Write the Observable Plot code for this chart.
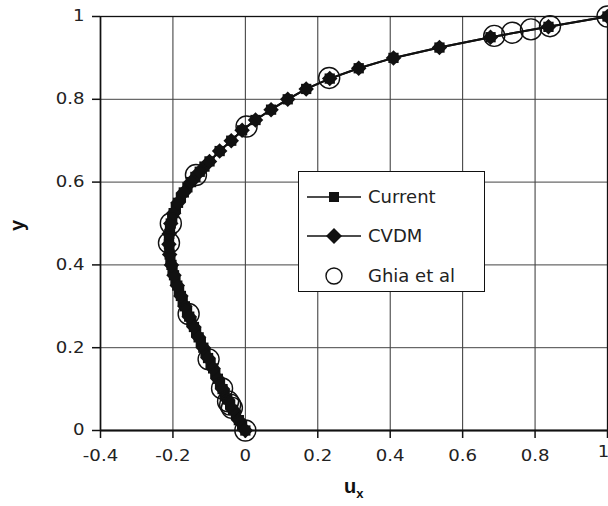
<!DOCTYPE html>
<html><head><meta charset="utf-8">
<script src="https://cdn.jsdelivr.net/npm/d3@7"></script>
<script src="https://cdn.jsdelivr.net/npm/@observablehq/plot@0.6"></script>
<style>
body{margin:0;background:#fff;font-family:"DejaVu Sans",sans-serif}
#wrap{position:relative;width:608px;height:506px;overflow:hidden}
#wrap > svg text{font-family:"DejaVu Sans",sans-serif !important;font-size:15.5px !important;fill:#222}
#legend{position:absolute;left:298px;top:171px;width:185px;height:119px;border:1.5px solid #111;background:#fff}
.ttl{position:absolute;font-family:"Liberation Sans",Arial,sans-serif;font-weight:bold;font-size:20px;color:#111}
</style></head><body><div id="wrap"></div><script>
// CVDM (diamonds)
const cvdmY = [0,0.025,0.05,0.075,0.1,0.125,0.15,0.175,0.2,0.225,0.25,0.275,0.3,0.325,0.35,0.375,0.4,0.425,0.45,0.475,0.5,0.525,0.55,0.575,0.6,0.625,0.65,0.675,0.7,0.725,0.75,0.775,0.8,0.825,0.85,0.875,0.9,0.925,0.95,0.975,1];
const cvdmU = [0,-0.018,-0.034,-0.05,-0.063,-0.076,-0.089,-0.103,-0.116,-0.129,-0.142,-0.155,-0.167,-0.178,-0.188,-0.197,-0.204,-0.209,-0.211,-0.21,-0.206,-0.198,-0.186,-0.17,-0.15,-0.126,-0.099,-0.071,-0.039,-0.009,0.028,0.071,0.117,0.168,0.233,0.313,0.409,0.536,0.677,0.837,1];
// Current (squares)
const currentY = [0,0.0125,0.025,0.0375,0.05,0.0625,0.075,0.0875,0.1,0.1125,0.125,0.1375,0.15,0.1625,0.175,0.1875,0.2,0.2125,0.225,0.2375,0.25,0.2625,0.275,0.2875,0.3,0.3125,0.325,0.3375,0.35,0.3625,0.375,0.3875,0.4,0.4125,0.425,0.4375,0.45,0.4625,0.475,0.4875,0.5,0.5125,0.525,0.5375,0.55,0.5625,0.575,0.5875,0.6,0.6125,0.625,0.6375,0.65,0.675,0.7,0.725,0.75,0.775,0.8,0.825,0.85,0.875,0.9,0.925,0.95,0.975,1];
const currentU = [0,-0.009,-0.018,-0.026,-0.034,-0.042,-0.05,-0.057,-0.063,-0.07,-0.076,-0.083,-0.089,-0.096,-0.103,-0.11,-0.116,-0.123,-0.129,-0.136,-0.142,-0.149,-0.155,-0.161,-0.167,-0.173,-0.178,-0.183,-0.188,-0.193,-0.197,-0.201,-0.204,-0.207,-0.209,-0.21,-0.211,-0.211,-0.21,-0.208,-0.206,-0.202,-0.198,-0.192,-0.186,-0.178,-0.17,-0.16,-0.15,-0.138,-0.126,-0.113,-0.099,-0.071,-0.039,-0.009,0.028,0.071,0.117,0.168,0.233,0.313,0.409,0.536,0.677,0.837,1];
// Ghia et al (open circles)
const ghiaY = [1,0.9766,0.9688,0.9609,0.9531,0.8516,0.7344,0.6172,0.5,0.4531,0.2813,0.1719,0.1016,0.0703,0.0625,0.0547,0];
const ghiaU = [1,0.84123,0.78871,0.73722,0.68717,0.23151,0.00332,-0.13641,-0.20581,-0.2109,-0.15662,-0.1015,-0.06434,-0.04775,-0.04192,-0.03717,0];
const xTicks = [-0.4,-0.2,0,0.2,0.4,0.6,0.8,1];
const yTicks = [0,0.2,0.4,0.6,0.8,1];
const legendLabels = ["Current","CVDM","Ghia et al"];
const xTitle = "u", xSub = "x", yTitle = "y";

const toRows = (ys, us) => ys.map((y, i) => ({y, u: us[i]}));
const cvdm = toRows(cvdmY, cvdmU), current = toRows(currentY, currentU), ghia = toRows(ghiaY, ghiaU);
const fmt = d => String(d);
const lastX = xTicks[xTicks.length - 1];

const chart = Plot.plot({
  width: 608, height: 506,
  marginLeft: 100, marginRight: 1, marginTop: 16, marginBottom: 76,
  style: {fontFamily: '"DejaVu Sans", sans-serif', fontSize: "15.5px", color: "#222", background: "#fff"},
  x: {domain: [-0.4, 1], label: null},
  y: {domain: [0, 1], label: null},
  marks: [
    Plot.ruleX(xTicks.slice(1, -1), {stroke: "#333", strokeWidth: 1}),
    Plot.ruleY(yTicks.slice(1, -1), {stroke: "#444", strokeWidth: 1}),
    Plot.frame({stroke: "#111", strokeWidth: 1.3}),
    Plot.ruleY([0], {stroke: "#111", strokeWidth: 2.2}),
    Plot.ruleX([-0.4], {stroke: "#111", strokeWidth: 1.5}),
    Plot.axisX({ticks: xTicks, tickFormat: d => (d === lastX ? "" : fmt(d)), tickSize: 8, tickPadding: 11, stroke: "#111", strokeWidth: 1.5}),
    Plot.text([lastX], {x: d => d, text: fmt, frameAnchor: "bottom", dy: 26, dx: -4, textAnchor: "middle"}),
    Plot.axisY({ticks: yTicks, tickFormat: fmt, tickSize: 8, tickPadding: 8, stroke: "#111", strokeWidth: 1.5}),
    Plot.line(current, {x: "u", y: "y", stroke: "#111", strokeWidth: 2}),
    Plot.dot(current, {x: "u", y: "y", symbol: "square", r: 5.8, fill: "#111", stroke: "none"}),
    Plot.line(cvdm, {x: "u", y: "y", stroke: "#111", strokeWidth: 2}),
    Plot.dot(cvdm, {x: "u", y: "y", symbol: "diamond2", r: 7, fill: "#111", stroke: "none"}),
    Plot.dot(ghia, {x: "u", y: "y", r: 10.5, fill: "none", stroke: "#111", strokeWidth: 1.4})
  ]
});

// widen the tick labels horizontally about their anchor, as in the reference
chart.querySelectorAll("text").forEach(t => {
  const x = parseFloat(t.getAttribute("x")) || 0;
  const tr = t.getAttribute("transform") || "";
  t.setAttribute("transform", `${tr} translate(${x},0) scale(1.17,1) translate(${-x},0)`.trim());
});

const wrap = document.getElementById("wrap");
wrap.appendChild(chart);

// legend
const lg = document.createElement("div");
lg.id = "legend";
const ys = [25, 64, 104];
let s = `<svg width="185" height="119" style="position:absolute;left:0;top:0" font-family='"DejaVu Sans", sans-serif'>`;
s += `<line x1="8" x2="62" y1="${ys[0]}" y2="${ys[0]}" stroke="#111" stroke-width="1.4"/><rect x="30" y="${ys[0]-5}" width="10" height="10" fill="#111"/>`;
s += `<line x1="8" x2="62" y1="${ys[1]}" y2="${ys[1]}" stroke="#111" stroke-width="1.4"/><path d="M35,${ys[1]-8}L43,${ys[1]}L35,${ys[1]+8}L27,${ys[1]}Z" fill="#111"/>`;
s += `<circle cx="35" cy="${ys[2]}" r="8" fill="none" stroke="#111" stroke-width="1.4"/>`;
legendLabels.forEach((t, i) => { s += `<text x="69" y="${ys[i]}" dy="0.36em" font-size="18" fill="#222">${t}</text>`; });
s += `</svg>`;
lg.innerHTML = s;
wrap.appendChild(lg);

// axis titles
const xt = document.createElement("div");
xt.className = "ttl";
xt.style.left = "344px"; xt.style.top = "475px";
xt.innerHTML = `${xTitle}<sub style="font-size:13px;vertical-align:-5px">${xSub}</sub>`;
wrap.appendChild(xt);
const yt = document.createElement("div");
yt.className = "ttl";
yt.style.left = "12px"; yt.style.top = "214px";
yt.style.transform = "rotate(-90deg)";
yt.textContent = yTitle;
wrap.appendChild(yt);
</script></body></html>
